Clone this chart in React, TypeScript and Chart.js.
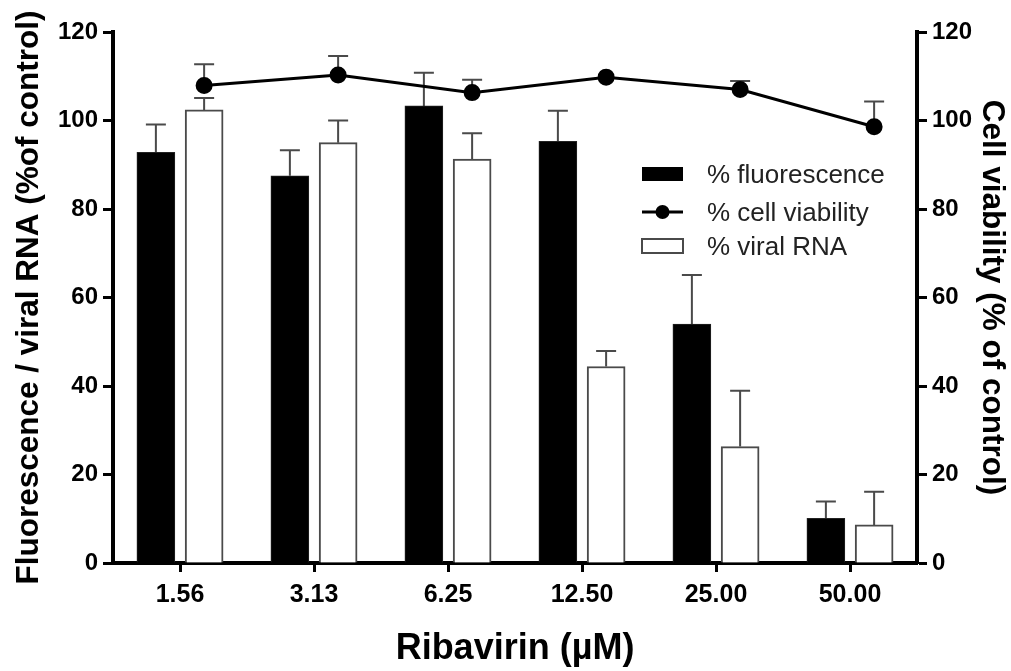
import React, { useEffect, useRef } from "react";
import { Chart, registerables } from "chart.js";

Chart.register(...registerables);

const categories = ["1.56", "3.13", "6.25", "12.50", "25.00", "50.00"];
const fluorescence = [92.8, 87.5, 103.3, 95.3, 54.0, 10.1];
const fluorescenceErr = [6.3, 5.8, 7.5, 6.9, 11.1, 3.8];
const viralRNA = [102.4, 95.0, 91.3, 44.4, 26.3, 8.6];
const viralRNAErr = [2.7, 5.0, 5.8, 3.5, 12.6, 7.5];
const viability = [107.9, 110.3, 106.3, 109.8, 107.0, 98.6];
const viabilityErr = [4.8, 4.3, 2.9, 0, 1.9, 5.7];
const yMin = 0;
const yMax = 120;
const yStep = 20;

const FONT = "'Liberation Sans', Arial, Helvetica, sans-serif";
const GROUP_SHIFT = 0.18; // offset (in category units) of each bar from the category centre
const BAR_PX = 38;
const ERR_COLOR = "#4a4a4a";

const errorBarPlugin = {
  id: "errorBars",
  beforeDatasetsDraw(chart: any) {
    const ctx = chart.ctx;
    ctx.save();
    chart.data.datasets.forEach((ds: any, di: number) => {
      const meta = chart.getDatasetMeta(di);
      if (!ds.errors) return;
      const yScale = chart.scales[meta.yAxisID];
      meta.data.forEach((el: any, i: number) => {
        const err = ds.errors[i];
        if (!err) return;
        const raw = ds.data[i];
        const v = typeof raw === "number" ? raw : raw.y;
        const x = el.x;
        const y0 = yScale.getPixelForValue(v);
        const y1 = yScale.getPixelForValue(v + err);
        ctx.strokeStyle = ERR_COLOR;
        ctx.lineWidth = 2;
        ctx.beginPath();
        ctx.moveTo(x, y0);
        ctx.lineTo(x, y1);
        ctx.moveTo(x - 10, y1);
        ctx.lineTo(x + 10, y1);
        ctx.stroke();
      });
    });
    ctx.restore();
  },
};

const legendPlugin = {
  id: "insideLegend",
  afterDraw(chart: any) {
    const ctx = chart.ctx;
    const ds = chart.data.datasets;
    const x0 = 642;
    const x1 = 683;
    const tx = 707;
    const rows = [174, 212, 246];
    ctx.save();
    ctx.fillStyle = "#000";
    ctx.fillRect(x0, rows[0] - 7, x1 - x0, 14);
    ctx.strokeStyle = "#000";
    ctx.lineWidth = 3;
    ctx.beginPath();
    ctx.moveTo(x0, rows[1]);
    ctx.lineTo(x1, rows[1]);
    ctx.stroke();
    ctx.beginPath();
    ctx.arc((x0 + x1) / 2, rows[1], 7, 0, Math.PI * 2);
    ctx.fill();
    ctx.fillStyle = "#fff";
    ctx.strokeStyle = ERR_COLOR;
    ctx.lineWidth = 2;
    ctx.fillRect(x0, rows[2] - 7, x1 - x0, 14);
    ctx.strokeRect(x0, rows[2] - 7, x1 - x0, 14);
    ctx.fillStyle = "#222";
    ctx.font = `26px ${FONT}`;
    ctx.textBaseline = "middle";
    ctx.textAlign = "left";
    const labels = [ds[1].label, ds[0].label, ds[2].label];
    labels.forEach((l: string, i: number) => ctx.fillText(l, tx, rows[i] + 2));
    ctx.restore();
  },
};

export default function App() {
  const ref = useRef<HTMLCanvasElement>(null);

  useEffect(() => {
    if (!ref.current) return;
    const chart = new Chart(ref.current, {
      type: "bar",
      data: {
        labels: categories,
        datasets: [
          {
            type: "line",
            label: "% cell viability",
            data: viability.map((v, i) => ({ x: i + GROUP_SHIFT, y: v })),
            xAxisID: "xl",
            yAxisID: "y1",
            borderColor: "#000",
            backgroundColor: "#000",
            borderWidth: 3,
            pointRadius: 7,
            pointBackgroundColor: "#000",
            pointBorderColor: "#000",
            tension: 0,
            order: 0,
            errors: viabilityErr,
          } as any,
          {
            type: "bar",
            label: "% fluorescence",
            data: fluorescence.map((v, i) => ({ x: i - GROUP_SHIFT, y: v })),
            xAxisID: "xl",
            yAxisID: "y",
            backgroundColor: "#000",
            borderColor: "#222",
            borderWidth: 1,
            grouped: false,
            barThickness: BAR_PX,
            order: 1,
            errors: fluorescenceErr,
          } as any,
          {
            type: "bar",
            label: "% viral RNA",
            data: viralRNA.map((v, i) => ({ x: i + GROUP_SHIFT, y: v })),
            xAxisID: "xl",
            yAxisID: "y",
            backgroundColor: "#fff",
            borderColor: ERR_COLOR,
            borderWidth: 2,
            grouped: false,
            barThickness: BAR_PX,
            order: 2,
            errors: viralRNAErr,
          } as any,
        ],
      },
      options: {
        responsive: false,
        animation: false,
        devicePixelRatio: 1,
        layout: { padding: { top: 32, left: 0, right: 0, bottom: 0 } },
        plugins: {
          legend: { display: false },
          tooltip: { enabled: false },
        },
        scales: {
          x: {
            type: "category",
            offset: true,
            grid: {
              offset: false,
              drawOnChartArea: false,
              tickLength: 9,
              tickWidth: 3,
              tickColor: "#000",
            },
            border: { display: true, width: 4, color: "#000" },
            ticks: {
              color: "#000",
              font: { family: FONT, size: 25, weight: "bold" },
              padding: 8,
              maxRotation: 0,
            },
            title: {
              display: true,
              text: "Ribavirin (µM)",
              color: "#000",
              font: { family: FONT, size: 36, weight: "bold" },
              padding: { top: 0, bottom: 0 },
            },
            afterFit: (s: any) => {
              s.height = 108;
            },
          },
          xl: {
            type: "linear",
            display: false,
            offset: false,
            grid: { offset: false },
            min: -0.5,
            max: categories.length - 0.5,
          },
          y: {
            position: "left",
            min: yMin,
            max: yMax,
            ticks: {
              stepSize: yStep,
              color: "#000",
              font: { family: FONT, size: 24, weight: "bold" },
              padding: 5,
            },
            grid: {
              drawOnChartArea: false,
              tickLength: 10,
              tickWidth: 3,
              tickColor: "#000",
            },
            border: { display: true, width: 4, color: "#000" },
            title: {
              display: true,
              text: "Fluorescence / viral RNA (%of control)",
              color: "#000",
              font: { family: FONT, size: 31.5, weight: "bold" },
              padding: { top: 10, bottom: 0 },
            },
            afterFit: (s: any) => {
              s.width = 113;
            },
          },
          y1: {
            position: "right",
            min: yMin,
            max: yMax,
            ticks: {
              stepSize: yStep,
              color: "#000",
              font: { family: FONT, size: 24, weight: "bold" },
              padding: 5,
            },
            grid: {
              drawOnChartArea: false,
              tickLength: 10,
              tickWidth: 3,
              tickColor: "#000",
            },
            border: { display: true, width: 4, color: "#000" },
            title: {
              display: true,
              text: "Cell viability (% of control)",
              color: "#000",
              font: { family: FONT, size: 31.5, weight: "bold" },
              padding: { top: 0, bottom: 0 },
            },
            afterFit: (s: any) => {
              s.width = 94;
            },
          },
        },
      } as any,
      plugins: [errorBarPlugin, legendPlugin],
    });
    return () => chart.destroy();
  }, []);

  return (
    <div style={{ position: "fixed", left: 0, top: 0, width: 1011, height: 671, background: "#fff" }}>
      <canvas ref={ref} width={1011} height={671} style={{ width: 1011, height: 671 }} />
    </div>
  );
}
